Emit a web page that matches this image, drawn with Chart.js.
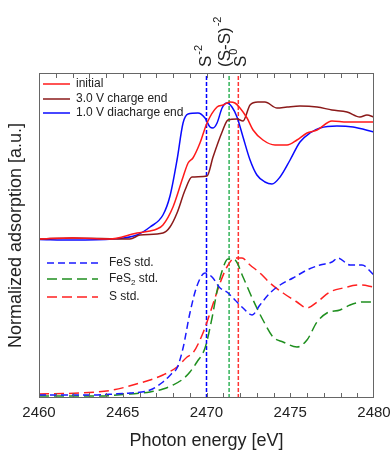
<!DOCTYPE html>
<html lang="en">
<head>
  <meta charset="UTF-8" />
  <title>S K-edge XANES</title>
  <script src="https://cdn.jsdelivr.net/npm/chart.js"></script>
  <style>
    body { margin: 0; background: #fff; }
    #wrap { width: 390px; height: 450px; position: relative; }
  </style>
</head>
<body>
  <div id="wrap"><canvas id="xanes"></canvas></div>

  <script>
    // --- data (energy in eV, intensity in a.u.) ---
    const initX = [2460, 2462, 2464.2, 2465.85, 2466.63, 2467.04, 2467.4, 2468.0, 2468.6, 2468.9, 2469.19, 2469.61, 2470.03, 2470.63, 2470.99, 2471.4, 2471.7, 2472.0, 2472.42, 2472.78, 2473.37, 2474.09, 2474.81, 2475.4, 2476.0, 2476.6, 2477.49, 2478.39, 2479.34, 2480];
    const initY = [1.59, 1.60, 1.59, 1.65, 1.67, 1.69, 1.73, 1.91, 2.21, 2.35, 2.40, 2.55, 2.75, 2.91, 2.93, 2.96, 2.95, 2.90, 2.80, 2.68, 2.58, 2.53, 2.53, 2.58, 2.65, 2.68, 2.77, 2.76, 2.76, 2.76];

    const chargeX = [2460, 2462, 2465.43, 2466.03, 2467.4, 2467.82, 2468.24, 2468.72, 2469.13, 2470.03, 2470.39, 2470.93, 2471.28, 2471.82, 2472.18, 2472.6, 2473.07, 2473.49, 2474.21, 2474.81, 2475.58, 2476.6, 2477.49, 2478.39, 2479.16, 2479.58, 2480];
    const chargeY = [1.59, 1.60, 1.59, 1.63, 1.65, 1.71, 1.85, 2.08, 2.21, 2.22, 2.41, 2.66, 2.78, 2.79, 2.77, 2.93, 2.96, 2.96, 2.90, 2.91, 2.92, 2.91, 2.88, 2.86, 2.81, 2.83, 2.81];

    const dischX = [2460, 2462, 2464.42, 2465.85, 2466.63, 2467.4, 2467.82, 2468.24, 2468.6, 2468.9, 2469.49, 2469.91, 2470.21, 2470.39, 2470.63, 2470.93, 2471.22, 2471.52, 2471.82, 2472.18, 2472.6, 2473.01, 2473.49, 2473.91, 2474.39, 2474.99, 2475.58, 2476.18, 2476.78, 2477.79, 2478.75, 2480];
    const dischY = [1.585, 1.58, 1.59, 1.63, 1.71, 1.83, 2.02, 2.38, 2.75, 2.84, 2.85, 2.80, 2.71, 2.70, 2.75, 2.90, 2.95, 2.91, 2.81, 2.61, 2.38, 2.23, 2.16, 2.14, 2.21, 2.38, 2.56, 2.65, 2.70, 2.72, 2.71, 2.66];

    const fesX = [2460, 2463.0, 2464.5, 2465.43, 2466.63, 2467.4, 2467.9, 2468.24, 2468.6, 2469.01, 2469.43, 2469.91, 2470.33, 2470.81, 2471.22, 2471.7, 2472.18, 2472.72, 2473.19, 2473.79, 2474.39, 2475.16, 2476.0, 2476.78, 2477.49, 2477.85, 2478.57, 2479.28, 2480];
    const fesY = [0.03, 0.03, 0.04, 0.05, 0.08, 0.16, 0.24, 0.30, 0.50, 0.85, 1.12, 1.25, 1.21, 1.10, 1.06, 0.98, 0.90, 0.83, 0.93, 1.05, 1.13, 1.20, 1.28, 1.33, 1.36, 1.40, 1.33, 1.33, 1.23];

    const fes2X = [2460, 2463.6, 2465.43, 2466.63, 2467.4, 2468.0, 2468.6, 2469.01, 2469.43, 2469.91, 2470.33, 2470.63, 2470.93, 2471.28, 2471.7, 2472.18, 2472.78, 2473.37, 2473.97, 2474.57, 2475.4, 2476.0, 2476.6, 2477.19, 2477.97, 2478.57, 2479.34, 2480];
    const fes2Y = [0.02, 0.02, 0.04, 0.06, 0.09, 0.13, 0.19, 0.26, 0.36, 0.50, 0.80, 1.07, 1.27, 1.39, 1.38, 1.21, 0.98, 0.78, 0.61, 0.56, 0.51, 0.58, 0.76, 0.85, 0.88, 0.93, 0.96, 0.96];

    const sX = [2460, 2462.45, 2464.42, 2466.03, 2466.63, 2467.4, 2468.24, 2468.84, 2469.19, 2469.79, 2470.33, 2470.81, 2471.22, 2471.7, 2472.12, 2472.6, 2473.19, 2473.79, 2474.57, 2475.4, 2476.0, 2476.6, 2477.37, 2478.15, 2479.16, 2480];
    const sY = [0.04, 0.05, 0.08, 0.15, 0.18, 0.23, 0.31, 0.41, 0.45, 0.65, 0.91, 1.15, 1.31, 1.40, 1.40, 1.33, 1.25, 1.15, 1.05, 0.96, 0.90, 0.96, 1.06, 1.10, 1.13, 1.11];

    // reference energies (S-2, (S-S)-2, S0)
    const refLines = [2470.0, 2471.35, 2471.9];
    const refColors = ['#0000ff', '#33b35a', '#ff3333'];
    const refLabels = [['S', '-2'], ['(S-S)', '-2'], ['S', '0']];

    const xTicks = [2460, 2465, 2470, 2475, 2480];

    const FONT = "'Liberation Sans', Arial, sans-serif";
    const pts = (xs, ys) => xs.map((x, i) => ({ x, y: ys[i] }));

    function curve(label, xs, ys, color, dash) {
      return {
        label, data: pts(xs, ys), borderColor: color, borderWidth: 1.5,
        borderDash: dash, pointRadius: 0, showLine: true,
        cubicInterpolationMode: 'monotone', fill: false
      };
    }

    const datasets = [
      curve('initial', initX, initY, '#ff1a1a', []),
      curve('3.0 V charge end', chargeX, chargeY, '#8b1a1a', []),
      curve('1.0 V diacharge end', dischX, dischY, '#0a0aff', []),
      curve('FeS std.', fesX, fesY, '#1a1aff', [7, 4]),
      curve('FeS2 std.', fes2X, fes2Y, '#1f8f1f', [10, 5]),
      curve('S std.', sX, sY, '#ff2020', [10, 5])
    ];
    refLines.forEach((e, i) => {
      datasets.push({
        label: 'ref' + i, data: [{ x: e, y: 0 }, { x: e, y: 3.25 }],
        borderColor: refColors[i], borderWidth: 1.5, borderDash: [4, 2],
        pointRadius: 0, showLine: true
      });
    });

    // frame, inward ticks, legends and the rotated labels on top
    const decor = {
      id: 'decor',
      afterDatasetsDraw(chart) {
        const { ctx, chartArea: a, scales: { x } } = chart;
        ctx.save();
        ctx.strokeStyle = '#666';
        ctx.lineWidth = 1;
        ctx.strokeRect(a.left + 0.5, a.top + 0.5, a.width - 1, a.height - 1);
        ctx.beginPath();
        for (let v = x.min + 1; v < x.max; v++) {
          const px = Math.round(x.getPixelForValue(v)) + 0.5;
          ctx.moveTo(px, a.bottom); ctx.lineTo(px, a.bottom - 5);
          ctx.moveTo(px, a.top); ctx.lineTo(px, a.top + 5);
        }
        ctx.stroke();

        // legends
        const ds = chart.data.datasets;
        function entry(d, y, x0, x1, tx) {
          ctx.save();
          ctx.strokeStyle = d.borderColor;
          ctx.lineWidth = 1.5;
          ctx.setLineDash(d.borderDash || []);
          ctx.beginPath(); ctx.moveTo(x0, y); ctx.lineTo(x1, y); ctx.stroke();
          ctx.restore();
          ctx.fillStyle = '#222';
          ctx.font = '12px ' + FONT;
          ctx.textBaseline = 'middle';
          const m = d.label.match(/^(FeS)(2)(.*)$/);
          if (m) {
            ctx.fillText(m[1], tx, y);
            let w = ctx.measureText(m[1]).width;
            ctx.font = '8px ' + FONT;
            ctx.fillText(m[2], tx + w, y + 4);
            w += ctx.measureText(m[2]).width;
            ctx.font = '12px ' + FONT;
            ctx.fillText(m[3], tx + w, y);
          } else {
            ctx.fillText(d.label, tx, y);
          }
        }
        [84, 99, 113].forEach((y, i) => entry(ds[i], y, 43, 70, 76));
        [263, 279, 297].forEach((y, i) => entry(ds[i + 3], y, 47, 98, 109));

        // rotated labels above the plot
        const labelX = [206, 225, 241];
        refLabels.forEach((lab, i) => {
          ctx.save();
          ctx.translate(labelX[i], 67);
          ctx.rotate(-Math.PI / 2);
          ctx.fillStyle = '#222';
          ctx.textBaseline = 'middle';
          ctx.font = '17px ' + FONT;
          ctx.fillText(lab[0], 0, 0);
          const w = ctx.measureText(lab[0]).width;
          ctx.font = '11px ' + FONT;
          ctx.fillText(lab[1], w + 1, -7);
          ctx.restore();
        });
        ctx.restore();
      }
    };

    new Chart(document.getElementById('xanes'), {
      type: 'scatter',
      data: { datasets },
      options: {
        responsive: true,
        maintainAspectRatio: false,
        animation: false,
        layout: { padding: { top: 73, right: 16, left: 0, bottom: 0 } },
        plugins: { legend: { display: false }, tooltip: { enabled: false } },
        scales: {
          x: {
            type: 'linear', min: 2460, max: 2480,
            afterFit: s => { s.height = 52; s.paddingLeft = 0; s.paddingRight = 0; },
            afterBuildTicks: s => { s.ticks = xTicks.map(v => ({ value: v })); },
            grid: { display: false, drawTicks: false },
            border: { display: false },
            ticks: {
              color: '#222', padding: 6, font: { family: FONT, size: 15 },
              callback: v => String(v)
            },
            title: {
              display: true, text: 'Photon energy [eV]', color: '#222',
              padding: 0, font: { family: FONT, size: 18, lineHeight: 1 }
            }
          },
          y: {
            min: 0, max: 3.25,
            afterFit: s => { s.width = 39; },
            grid: { display: false, drawTicks: false },
            border: { display: false },
            ticks: { display: false },
            title: {
              display: true, text: 'Normalized adsorption [a.u.]', color: '#222',
              padding: { top: 5, bottom: 0 }, font: { family: FONT, size: 18, lineHeight: 1.2 }
            }
          }
        }
      },
      plugins: [decor]
    });
  </script>
</body>
</html>
